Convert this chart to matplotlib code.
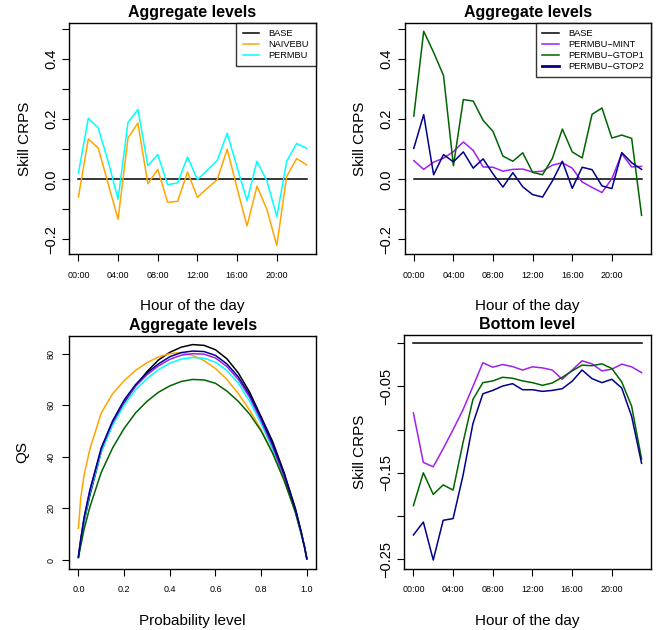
import numpy as np
import matplotlib
matplotlib.use("Agg")
import matplotlib.pyplot as plt

plt.rcParams['font.family'] = ['Liberation Sans', 'DejaVu Sans']

hours = np.arange(24)
hour_ticks = [0, 4, 8, 12, 16, 20]
hour_labels = ["00:00", "04:00", "08:00", "12:00", "16:00", "20:00"]

# skill CRPS, aggregate levels
base_agg = np.zeros(24)
naivebu = [-0.059, 0.134, 0.104, -0.015, -0.133, 0.137, 0.187, -0.015, 0.033, -0.077, -0.073, 0.024,
           -0.060, -0.030, -0.001, 0.100, -0.030, -0.155, -0.023, -0.100, -0.220, 0.010, 0.069, 0.048]
permbu = [0.020, 0.203, 0.170, 0.060, -0.066, 0.189, 0.232, 0.045, 0.082, -0.018, -0.012, 0.074,
          -0.001, 0.030, 0.063, 0.153, 0.040, -0.071, 0.060, -0.005, -0.124, 0.060, 0.119, 0.103]
mint = [0.062, 0.033, 0.057, 0.070, 0.092, 0.124, 0.096, 0.041, 0.040, 0.027, 0.033, 0.034,
        0.024, 0.027, 0.047, 0.055, 0.037, -0.009, -0.027, -0.044, 0.002, 0.085, 0.041, 0.043]
gtop1 = [0.210, 0.492, 0.422, 0.345, 0.045, 0.265, 0.260, 0.196, 0.159, 0.077, 0.060, 0.088,
         0.023, 0.015, 0.070, 0.167, 0.091, 0.071, 0.216, 0.237, 0.137, 0.147, 0.136, -0.120]
gtop2 = [0.103, 0.215, 0.015, 0.082, 0.058, 0.091, 0.037, 0.068, 0.018, -0.026, 0.022, -0.025,
         -0.051, -0.059, -0.005, 0.060, -0.030, 0.040, 0.032, -0.022, -0.031, 0.089, 0.055, 0.033]

# skill CRPS, bottom level
base_bot = np.zeros(24)
bot_mint = [-0.0807, -0.138, -0.143, -0.122, -0.100, -0.077, -0.050, -0.0226, -0.0277, -0.0246, -0.027, -0.031,
            -0.0273, -0.0285, -0.031, -0.0417, -0.031, -0.0203, -0.0238, -0.032, -0.030, -0.0242, -0.0273, -0.034]
bot_gtop1 = [-0.188, -0.150, -0.175, -0.164, -0.170, -0.115, -0.065, -0.0456, -0.0436, -0.0394, -0.0405, -0.0436,
             -0.0456, -0.0487, -0.046, -0.0394, -0.032, -0.0253, -0.026, -0.0238, -0.0292, -0.0448, -0.0729, -0.134]
bot_gtop2 = [-0.222, -0.207, -0.251, -0.205, -0.203, -0.153, -0.093, -0.0585, -0.0546, -0.0495, -0.0468, -0.0538,
             -0.0538, -0.0557, -0.0546, -0.0526, -0.044, -0.031, -0.0409, -0.0456, -0.0417, -0.0518, -0.0846, -0.139]

# quantile score by probability level
tau = [0, 0.01, 0.025, 0.05, 0.1, 0.15, 0.2, 0.25, 0.3, 0.35, 0.4, 0.45, 0.5,
       0.55, 0.6, 0.65, 0.7, 0.75, 0.8, 0.85, 0.9, 0.95, 0.975, 0.99, 1.0]
qs_base = [1, 7, 15, 25, 42, 53, 61, 67.5, 73, 77.5, 80.5, 82.5, 83.5,
           83.2, 81.5, 78, 72.5, 65, 55.5, 46, 34, 20, 11, 5, 0.5]
qs_naivebu = [12.3, 24, 33, 43, 57, 64.5, 69.5, 73.5, 76.5, 78.7, 80, 80.4, 79.3,
              77.3, 74.2, 70, 64.5, 58, 50.5, 41.5, 31, 18.5, 10.5, 5, 0.5]
qs_permbu = [1, 7.5, 15.5, 26, 42, 52.3, 60, 66, 70.3, 73.8, 76.3, 77.9, 78.5,
             78.2, 76.7, 73.5, 68.5, 61.5, 52.8, 43, 31.8, 18.5, 10.3, 4.8, 0.5]
qs_mint = [1.5, 8, 16.5, 27, 43, 53.5, 61.5, 67.3, 71.8, 75.2, 77.8, 79.4, 80,
           79.8, 78.3, 75, 70, 63, 54, 44, 32.5, 19, 10.5, 5, 0.5]
qs_gtop1 = [1, 5.5, 12, 20.5, 34, 43.5, 51, 57, 61.5, 65, 67.5, 69.2, 70,
            69.8, 68.5, 65.5, 61.5, 56.5, 50, 41.5, 31, 18.5, 10.3, 5, 0.5]
qs_gtop2 = [1.2, 8, 16.5, 27, 43.5, 54, 62, 68, 72.5, 76, 78.8, 80.4, 81,
            80.8, 79.3, 76, 71, 64, 55, 45, 33.5, 19.5, 11, 5, 0.5]

col = {"BASE": "black", "NAIVEBU": "#FFA500", "PERMBU": "#00FFFF",
       "PERMBU-MINT": "#A020F0", "PERMBU-GTOP1": "#006400", "PERMBU-GTOP2": "#00008B"}
lw = 1.1


def r_lim(vals):
    lo, hi = np.min(vals), np.max(vals)
    d = (hi - lo) * 0.04
    return lo - d, hi + d


def style_axes(ax, title):
    ax.set_title(title, fontsize=11.5, fontweight="bold", pad=4)
    for s in ax.spines.values():
        s.set_linewidth(1.0)
    ax.tick_params(axis="both", direction="out", length=5, width=0.8, color="black")
    ax.tick_params(axis="x", labelsize=6.5, pad=7)


def hour_axes(ax, title, ylim, yticks, ylabels):
    style_axes(ax, title)
    ax.set_xlim(-0.92, 23.92)
    ax.set_xticks(hour_ticks)
    ax.set_xticklabels(hour_labels)
    ax.set_ylim(ylim)
    ax.set_yticks(yticks)
    ax.set_yticklabels(ylabels, rotation=90, va="center", fontsize=10.5)
    ax.tick_params(axis="y", pad=3)
    ax.set_xlabel("Hour of the day", fontsize=11, labelpad=14)
    ax.set_ylabel("Skill CRPS", fontsize=11, labelpad=9)


fig = plt.figure(figsize=(6.56, 6.30), dpi=100)
ax1 = fig.add_axes([0.1056, 0.5968, 0.3756, 0.3671])
ax2 = fig.add_axes([0.6169, 0.5968, 0.3750, 0.3671])
ax3 = fig.add_axes([0.1056, 0.0973, 0.3761, 0.3694])
ax4 = fig.add_axes([0.6163, 0.0973, 0.3756, 0.3716])

agg_lim = r_lim(np.concatenate([naivebu, permbu, mint, gtop1, gtop2, base_agg]))
agg_ticks = np.round(np.arange(-0.2, 0.51, 0.1), 1)
agg_labels = ["\u22120.2", "", "0.0", "", "0.2", "", "0.4", ""]

# top left
ax1.plot(hours, base_agg, color=col["BASE"], lw=lw, label="BASE")
ax1.plot(hours, naivebu, color=col["NAIVEBU"], lw=lw, label="NAIVEBU")
ax1.plot(hours, permbu, color=col["PERMBU"], lw=lw, label="PERMBU")
hour_axes(ax1, "Aggregate levels", agg_lim, agg_ticks, agg_labels)

# top right
ax2.plot(hours, base_agg, color=col["BASE"], lw=lw, label="BASE")
ax2.plot(hours, mint, color=col["PERMBU-MINT"], lw=lw, label="PERMBU\u2212MINT")
ax2.plot(hours, gtop1, color=col["PERMBU-GTOP1"], lw=lw, label="PERMBU\u2212GTOP1")
ax2.plot(hours, gtop2, color=col["PERMBU-GTOP2"], lw=lw, label="PERMBU\u2212GTOP2")
hour_axes(ax2, "Aggregate levels", agg_lim, agg_ticks, agg_labels)

for ax in (ax1, ax2):
    leg = ax.legend(loc="upper right", fontsize=6.7, frameon=True, fancybox=False,
                    borderaxespad=0, handlelength=1.8, handletextpad=1.0,
                    labelspacing=0.2, borderpad=0.7)
    leg.get_frame().set_edgecolor("black")
    leg.get_frame().set_linewidth(1.0)
    for ln in leg.get_lines():
        ln.set_linewidth(1.1)
ax2.get_legend().get_lines()[3].set_linewidth(2.0)

# bottom left, quantile scores
ax3.plot(tau, qs_base, color=col["BASE"], lw=lw)
ax3.plot(tau, qs_naivebu, color=col["NAIVEBU"], lw=lw)
ax3.plot(tau, qs_permbu, color=col["PERMBU"], lw=lw)
ax3.plot(tau, qs_mint, color=col["PERMBU-MINT"], lw=lw)
ax3.plot(tau, qs_gtop1, color=col["PERMBU-GTOP1"], lw=lw)
ax3.plot(tau, qs_gtop2, color=col["PERMBU-GTOP2"], lw=lw)
style_axes(ax3, "Aggregate levels")
ax3.set_xlim(-0.04, 1.04)
ax3.set_ylim(r_lim(np.concatenate([qs_base, qs_naivebu, qs_permbu, qs_mint, qs_gtop1, qs_gtop2, [0]])))
ax3.set_xticks([0, 0.2, 0.4, 0.6, 0.8, 1.0])
ax3.set_xticklabels(["0.0", "0.2", "0.4", "0.6", "0.8", "1.0"])
ax3.set_yticks([0, 20, 40, 60, 80])
ax3.set_yticklabels(["0", "20", "40", "60", "80"], rotation=90, va="center", fontsize=6.5)
ax3.tick_params(axis="y", pad=5)
ax3.set_xlabel("Probability level", fontsize=11, labelpad=14)
ax3.set_ylabel("QS", fontsize=11, labelpad=12.5)

# bottom right
ax4.plot(hours, base_bot, color=col["BASE"], lw=lw)
ax4.plot(hours, bot_mint, color=col["PERMBU-MINT"], lw=lw)
ax4.plot(hours, bot_gtop1, color=col["PERMBU-GTOP1"], lw=lw)
ax4.plot(hours, bot_gtop2, color=col["PERMBU-GTOP2"], lw=lw)
bot_ticks = np.round(np.arange(-0.25, 0.001, 0.05), 2)
bot_labels = ["\u22120.25", "", "\u22120.15", "", "\u22120.05", ""]
hour_axes(ax4, "Bottom level",
          r_lim(np.concatenate([base_bot, bot_mint, bot_gtop1, bot_gtop2])),
          bot_ticks, bot_labels)

fig.savefig("out.png", dpi=100)
